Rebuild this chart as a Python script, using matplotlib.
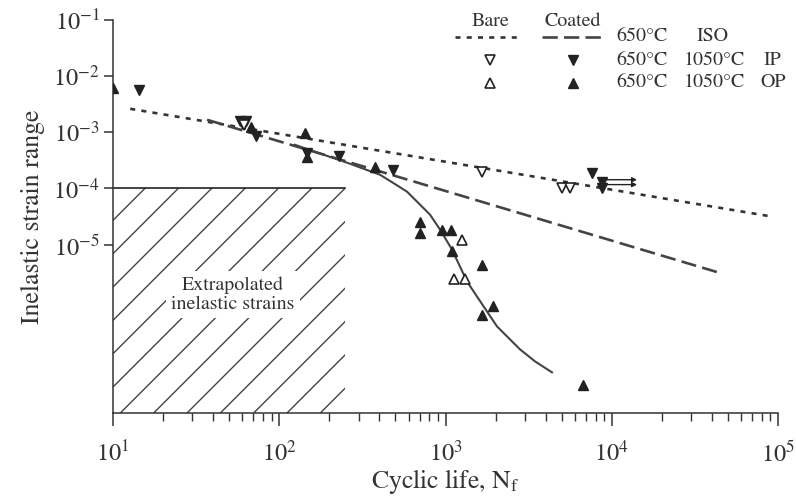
import matplotlib
matplotlib.use('Agg')
import matplotlib.pyplot as plt
from matplotlib.ticker import FixedLocator, LogLocator, NullFormatter
from matplotlib.lines import Line2D

plt.rcParams['font.family'] = ['STIXGeneral', 'DejaVu Serif']
plt.rcParams['mathtext.fontset'] = 'stix'
plt.rcParams['lines.scale_dashes'] = False
plt.rcParams['hatch.linewidth'] = 1.0
plt.rcParams['hatch.color'] = '#444444'

# data (cycles to failure, inelastic strain range)
coated_op_n = [10, 67.6, 143, 147, 377, 703, 703, 953, 1079, 1090, 1659, 1931, 1659, 6714]
coated_op_e = [6.2e-3, 1.25e-3, 9.8e-4, 3.7e-4, 2.44e-4, 2.56e-5, 1.63e-5, 1.85e-5,
               1.85e-5, 7.8e-6, 4.4e-6, 7.9e-7, 5.5e-7, 3.1e-8]
coated_ip_n = [14.3, 58, 63, 72.4, 147, 229, 483, 7600, 8730, 8730]
coated_ip_e = [5.7e-3, 1.6e-3, 1.6e-3, 8.7e-4, 4.3e-4, 3.8e-4, 2.15e-4, 1.9e-4, 1.32e-4, 1.03e-4]
bare_ip_n = [61.4, 1659, 5020, 5610]
bare_ip_e = [1.36e-3, 1.99e-4, 1.03e-4, 1.03e-4]
bare_op_n = [1257, 1125, 1310]
bare_op_e = [1.23e-5, 2.4e-6, 2.4e-6]

# fitted lines
bare_iso_n = [12.7, 92000]
bare_iso_e = [2.62e-3, 3.15e-5]
coated_iso_n = [36.8, 46000]
coated_iso_e = [1.67e-3, 3.05e-6]
coated_fit_n = [124, 164, 256, 404, 483, 587, 703, 807, 927, 1094, 1222, 1347,
                1546, 1777, 2040, 2377, 2806, 3455, 4370]
coated_fit_e = [6.0e-4, 4.5e-4, 2.87e-4, 1.75e-4, 1.26e-4, 8.75e-5, 5.14e-5, 3.41e-5,
                1.85e-5, 8.15e-6, 4.06e-6, 2.2e-6, 1.19e-6, 6.44e-7, 3.49e-7, 2.22e-7,
                1.36e-7, 8.3e-8, 5.3e-8]

# run-outs (arrows)
runout_from = [9110, 9110]
runout_to = [14200, 14200]
runout_e = [1.43e-4, 1.17e-4]

# extrapolated region
extrap_n = [10, 250]
extrap_e = [1e-8, 1e-4]

ytick_vals = [1e-1, 1e-2, 1e-3, 1e-4, 1e-5]
ytick_labels = [r'$10^{-1}$', r'$10^{-2}$', r'$10^{-3}$', r'$10^{-4}$', r'$10^{-5}$']

ink = '#222222'
grey = '#333333'
DOT = (0, (3.6, 4.5))
DASH = (0, (11.0, 4.5))
MS = 7.3

fig = plt.figure(figsize=(7.96, 5.0), dpi=100)
ax = fig.add_axes([113 / 796, 87 / 500, 665 / 796, 393 / 500])
ax.set_xscale('log')
ax.set_yscale('log')
ax.set_xlim(10, 1e5)
ax.set_ylim(1e-8, 1e-1)

# hatched box
ax.fill_between(extrap_n, extrap_e[0], extrap_e[1], facecolor='none', edgecolor='#444444',
                hatch='/', linewidth=0, zorder=1)
ax.plot(extrap_n, [extrap_e[1]] * 2, color=ink, lw=1.2, zorder=2)
ax.text(52.7, 1.29e-6, 'Extrapolated\ninelastic strains', ha='center', va='center',
        fontsize=14.4, color=grey, linespacing=1.1,
        bbox=dict(facecolor='white', edgecolor='none', pad=4), zorder=3)

ax.plot(bare_iso_n, bare_iso_e, color=grey, lw=1.9, ls=DOT, zorder=2)
ax.plot(coated_iso_n, coated_iso_e, color='#444444', lw=1.9, ls=DASH, zorder=2)
ax.plot(coated_fit_n, coated_fit_e, color='#444444', lw=1.5, zorder=2)

mk = dict(ms=MS, ls='none', zorder=4)
ax.plot(coated_op_n, coated_op_e, marker='^', color=ink, mec=ink, **mk)
ax.plot(coated_ip_n, coated_ip_e, marker='v', color=ink, mec=ink, **mk)
ax.plot(bare_ip_n, bare_ip_e, marker='v', mfc='white', mec=ink, mew=1.2, **mk)
ax.plot(bare_op_n, bare_op_e, marker='^', mfc='white', mec=ink, mew=1.2, **mk)

for a, b, e in zip(runout_from, runout_to, runout_e):
    ax.annotate('', xy=(b, e), xytext=(a, e),
                arrowprops=dict(arrowstyle='-|>', lw=1.0, color=ink,
                                mutation_scale=7, shrinkA=0, shrinkB=0), zorder=3)

# axes styling
for s in ('top', 'right'):
    ax.spines[s].set_visible(False)
for s in ('left', 'bottom'):
    ax.spines[s].set_linewidth(1.1)
    ax.spines[s].set_color(grey)

ax.yaxis.set_major_locator(FixedLocator(ytick_vals))
ax.yaxis.set_minor_locator(FixedLocator([]))
ax.set_yticklabels(ytick_labels)
ax.xaxis.set_major_locator(LogLocator(base=10, numticks=10))
ax.xaxis.set_minor_locator(LogLocator(base=10, subs=range(2, 10), numticks=20))
ax.xaxis.set_minor_formatter(NullFormatter())
ax.tick_params(axis='x', which='major', length=9, width=1.1, pad=11, labelsize=17.5, colors=grey)
ax.tick_params(axis='x', which='minor', length=5.5, width=1.0, colors=grey)
ax.tick_params(axis='y', which='major', length=6.5, width=1.1, pad=3, labelsize=17.5, colors=grey)

ax.set_xlabel(r'Cyclic life, N$_\mathrm{f}$', fontsize=18.5, color=grey, labelpad=0)
ax.set_ylabel('Inelastic strain range', fontsize=18.5, color=grey, labelpad=6)

# hand-made legend
t = ax.transAxes
lt = dict(transform=t, fontsize=14.4, color=grey, ha='center', va='center', clip_on=False)
ax.text(0.567, 0.997, 'Bare', **lt)
ax.text(0.692, 0.997, 'Coated', **lt)
ax.add_line(Line2D([0.514, 0.612], [0.957, 0.957], transform=t, color=grey, lw=1.9,
                   ls=DOT, clip_on=False))
ax.add_line(Line2D([0.645, 0.740], [0.957, 0.957], transform=t, color='#444444', lw=1.9,
                   ls=DASH, clip_on=False))
ax.plot([0.567], [0.898], transform=t, marker='v', mfc='white', mec=ink, mew=1.2, ms=MS, clip_on=False)
ax.plot([0.567], [0.840], transform=t, marker='^', mfc='white', mec=ink, mew=1.2, ms=MS, clip_on=False)
ax.plot([0.692], [0.898], transform=t, marker='v', color=ink, ms=MS, clip_on=False)
ax.plot([0.692], [0.840], transform=t, marker='^', color=ink, ms=MS, clip_on=False)
ax.text(0.795, 0.957, '650°C', **lt)
ax.text(0.902, 0.957, 'ISO', **lt)
ax.text(0.795, 0.898, '650°C', **lt)
ax.text(0.904, 0.898, '1050°C', **lt)
ax.text(0.992, 0.898, 'IP', **lt)
ax.text(0.795, 0.840, '650°C', **lt)
ax.text(0.904, 0.840, '1050°C', **lt)
ax.text(0.992, 0.840, 'OP', **lt)

fig.savefig('out.png', dpi=100)
